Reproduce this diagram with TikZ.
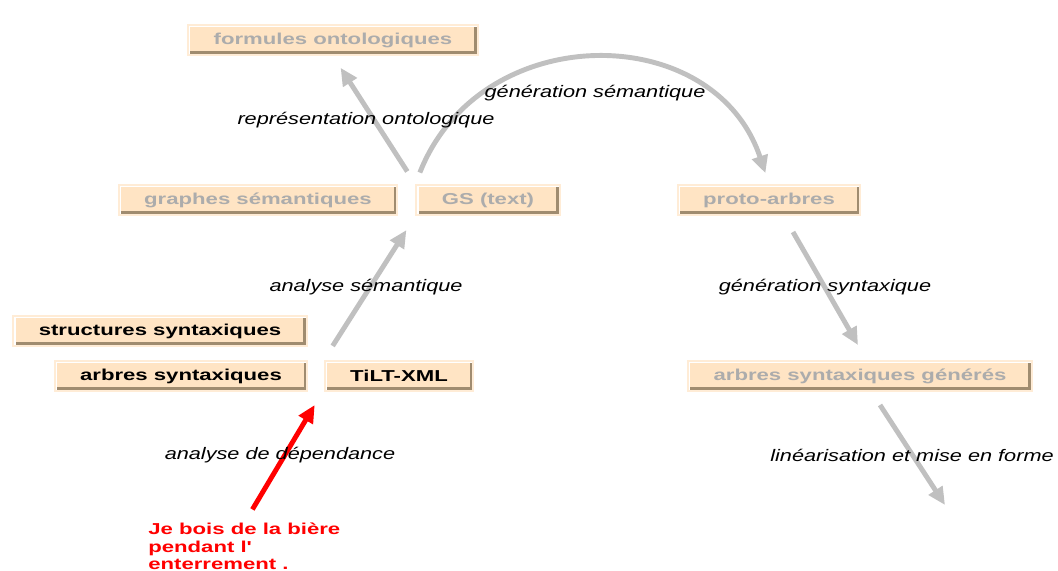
\documentclass[tikz,border=0pt]{standalone}
\usepackage{fontspec}
\usetikzlibrary{arrows.meta}
\newfontfamily\boxfont[FakeStretch=1.4]{Liberation Sans}
\newfontfamily\lblfont[FakeStretch=1.3]{Liberation Sans}
\definecolor{boxfill}{RGB}{255,228,196}
\definecolor{boxframe}{RGB}{255,236,214}
\definecolor{boxshade}{RGB}{160,140,112}
\definecolor{boxgray}{RGB}{172,172,172}
\definecolor{arrowgray}{RGB}{192,192,192}
\definecolor{redtext}{RGB}{255,0,0}
\tikzset{
    etape/.style={fill=boxfill, draw=boxframe, line width=1.2pt, inner xsep=14.5pt, inner ysep=0pt,
        minimum height=17pt, text=boxgray, font=\boxfont\bfseries\fontsize{9}{10}\selectfont,
        path picture={
            \draw[boxshade, line width=4pt] (path picture bounding box.south west) -- (path picture bounding box.south east) -- (path picture bounding box.north east);
            \draw[white, line width=2.5pt] (path picture bounding box.south west) -- (path picture bounding box.north west) -- (path picture bounding box.north east);
        }},
    actif/.style={etape, text=black},
    fleche/.style={arrowgray, line width=2.8pt, -{Triangle[length=10pt,width=9pt]}},
    etiquette/.style={font=\lblfont\itshape\fontsize{9.5}{11}\selectfont, inner sep=0pt}
}
\begin{document}
\begin{tikzpicture}[x=0.02cm, y=-0.02cm]
    \useasboundingbox (0,0) rectangle (1058,571);

    % boites
    \node[etape] (onto) at (333,40) {formules ontologiques};
    \node[etape] (graphes) at (258,200) {graphes sémantiques};
    \node[etape] (gs) at (488,200) {GS (text)};
    \node[etape] (proto) at (769,200) {proto-arbres};
    \node[actif] (structs) at (160,331) {structures syntaxiques};
    \node[actif] (arbres) at (181,376) {arbres syntaxiques};
    \node[actif] (tilt) at (399,376) {TiLT-XML};
    \node[etape] (generes) at (860,376) {arbres syntaxiques générés};

    % phrase d'entree
    \node[anchor=north west, inner sep=0pt, align=left, text=redtext,
        font=\boxfont\bfseries\fontsize{9}{9.8}\selectfont] (phrase) at (148,523)
        {Je bois de la bière\\pendant l'\\enterrement .};
    \coordinate (sortie) at (945,505);

    % fleches
    \draw[fleche, shorten <=8.5pt, shorten >=8pt] (gs.north west) -- (onto.south);
    \draw[fleche, shorten <=7pt, shorten >=6.5pt] (gs.north west) .. controls +(65,-165) and +(-55,-165) .. (proto.north);
    \draw[fleche, shorten <=9.5pt, shorten >=9.5pt] (tilt.north west) -- (gs.south west);
    \draw[fleche] ([shift={(24,16)}]proto.south) -- ([shift={(-2,-15)}]generes.north);
    \draw[fleche] ([shift={(20,13)}]generes.south) -- (sortie);
    \draw[fleche, redtext, shorten <=9pt] (phrase.north) -- ([shift={(-9,13)}]tilt.south west);

    % etiquettes
    \node[etiquette] (lblRep) at (366,120) {représentation ontologique};
    \node[etiquette] (lblGenSem) at (595,93) {génération sémantique};
    \node[etiquette] (lblAnaSem) at (366,287) {analyse sémantique};
    \node[etiquette] (lblGenSyn) at (825,287) {génération syntaxique};
    \node[etiquette] (lblLin) at (912,455) {linéarisation et mise en forme};
    \node[etiquette] (lblAnaDep) at (280,455) {analyse de dépendance};
\end{tikzpicture}
\end{document}
